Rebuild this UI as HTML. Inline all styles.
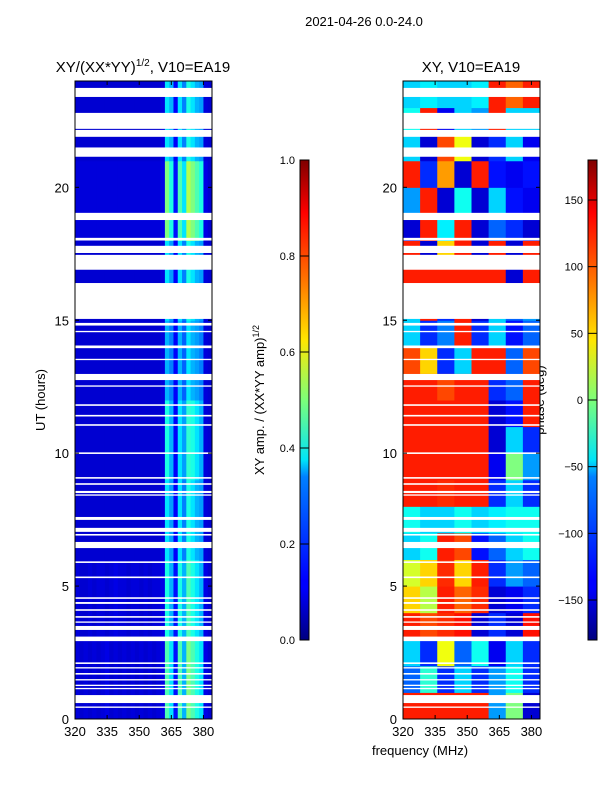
<!DOCTYPE html>
<html><head><meta charset="utf-8"><style>
body{margin:0;background:#fff;width:600px;height:800px;overflow:hidden}
svg text{font-family:"Liberation Sans",sans-serif;fill:#000}
</style></head><body>
<svg id="fig" width="600" height="800" xmlns="http://www.w3.org/2000/svg">
<defs>
<linearGradient id="jet" x1="0" y1="1" x2="0" y2="0">
<stop offset="0" stop-color="#00007f"/><stop offset="0.11" stop-color="#0000ff"/><stop offset="0.125" stop-color="#0000ff"/>
<stop offset="0.34" stop-color="#0080ff"/><stop offset="0.375" stop-color="#00e4f8"/><stop offset="0.5" stop-color="#7cff79"/>
<stop offset="0.625" stop-color="#ffe600"/><stop offset="0.75" stop-color="#ff7400"/><stop offset="0.89" stop-color="#ff0000"/><stop offset="1" stop-color="#7f0000"/>
</linearGradient>
</defs>
<text x="364" y="26" font-size="13" text-anchor="middle">2021-04-26 0.0-24.0</text>
<text x="143" y="72" font-size="15" text-anchor="middle">XY/(XX*YY)<tspan font-size="10" dy="-6">1/2</tspan><tspan dy="6">, V10=EA19</tspan></text>
<text x="471" y="72" font-size="15" text-anchor="middle">XY, V10=EA19</text>
<text transform="translate(45,400) rotate(-90)" font-size="13" text-anchor="middle">UT (hours)</text>
<text transform="translate(264,400) rotate(-90)" font-size="13" text-anchor="middle">XY amp. / (XX*YY amp)<tspan font-size="9" dy="-5">1/2</tspan></text>
<text transform="translate(544,400) rotate(-90)" font-size="13" text-anchor="middle" fill="#333">phase (deg)</text>
<text x="420" y="755" font-size="13" text-anchor="middle">frequency (MHz)</text>
<g id="left"></g><g id="right"></g><g id="cb"></g>
</svg>
<script>
const freqTicks=[320,335,350,365,380];
const hourTicks=[0,5,10,15,20];
const ampTicks=[0.0,0.2,0.4,0.6,0.8,1.0];
const phaseTicks=[-150,-100,-50,0,50,100,150];
// amplitude: 8 time rows (3h each, from 0h), 32 freq cols (2 MHz from 320)
const ampRows=[
[.09,.08,.09,.08,.09,.08,.09,.1,.08,.09,.08,.09,.08,.09,.08,.09,.08,.09,.08,.09,.1,.45,.35,.14,.45,.3,.5,.45,.4,.35,.1,.08],
[.09,.08,.08,.09,.08,.09,.09,.08,.09,.1,.09,.09,.08,.09,.09,.08,.09,.08,.09,.09,.1,.4,.3,.14,.4,.3,.45,.4,.35,.3,.1,.08],
[.08,.08,.08,.08,.08,.08,.08,.08,.08,.08,.08,.08,.08,.08,.08,.08,.08,.08,.08,.08,.09,.35,.28,.12,.35,.25,.4,.35,.3,.28,.09,.08],
[.08,.08,.08,.08,.08,.08,.08,.08,.08,.08,.08,.08,.08,.08,.08,.08,.08,.08,.08,.08,.09,.4,.3,.12,.35,.28,.42,.4,.35,.3,.09,.08],
[.08,.08,.08,.08,.08,.08,.08,.08,.08,.08,.08,.08,.08,.08,.08,.08,.08,.08,.08,.08,.09,.3,.25,.12,.3,.22,.35,.3,.28,.25,.09,.08],
[.08,.08,.08,.08,.08,.08,.08,.08,.08,.08,.08,.08,.08,.08,.08,.08,.08,.08,.08,.08,.09,.35,.28,.12,.35,.25,.4,.35,.3,.28,.09,.08],
[.09,.09,.09,.09,.09,.09,.09,.09,.09,.09,.09,.09,.09,.09,.09,.09,.09,.09,.09,.09,.1,.5,.4,.14,.45,.35,.55,.5,.45,.4,.1,.08],
[.08,.08,.08,.08,.08,.08,.08,.08,.08,.08,.08,.08,.08,.08,.08,.08,.08,.08,.08,.08,.09,.35,.3,.12,.35,.25,.4,.35,.3,.28,.09,.08]];
// phase (deg): 24 hourly rows from 0h, 8 freq cols (8 MHz from 320)
const phaseRows=[
[125,125,125,125,125,-80,0,-150],[-100,-30,-120,-60,-120,-80,-40,-120],[-60,-120,40,-100,-40,-140,-60,-120],
[125,110,120,130,-150,-120,-150,130],[60,20,125,100,120,-150,-140,-120],[30,60,120,60,125,-120,-80,-100],
[-60,-40,125,110,-130,-100,-60,-40],[-40,-60,-60,-40,-60,-50,-40,-40],[125,125,120,125,125,-120,-60,-120],
[125,125,125,125,125,-140,0,-80],[125,125,125,125,125,-150,-60,-120],[125,125,125,125,125,-150,-130,125],
[125,125,110,125,125,-120,-100,125],[110,60,-120,-60,125,125,-100,110],[-60,-120,-90,125,-120,-60,-130,-100],
[-60,125,-120,125,-150,-60,-100,-80],[125,125,125,125,125,125,-150,125],[125,-150,60,125,-150,125,-150,125],
[-150,125,-50,125,-150,-100,-120,-150],[-80,125,-150,-40,-150,-60,-130,-140],[125,-120,80,-150,125,-130,-140,-130],
[-60,-150,110,40,-150,-120,-60,-140],[-40,125,-140,-60,-80,125,-60,-60],[-60,-50,-60,-60,-50,125,100,125]];
// flagged (blank) time ranges in hours
const gaps=[[23.4,23.74],[22.2,22.8],[21.9,22.16],[21.15,21.5],[18.77,19.04],[18.0,18.1],[17.53,17.8],[16.9,17.46],[15.05,16.4],
[14.8,14.9],[14.55,14.6],[13.95,14.05],[13.5,13.55],[12.75,12.98],[12.5,12.55],[11.78,11.84],[11.38,11.44],[11.03,11.09],[9.97,10.03],
[9.04,9.1],[8.81,8.87],[8.5,8.58],[8.4,8.45],[7.49,7.6],[7.04,7.19],[6.9,6.96],[6.43,6.66],[5.87,5.93],[5.3,5.36],[4.52,4.58],[4.33,4.4],
[4.07,4.13],[3.81,3.87],[3.62,3.67],[3.35,3.5],[2.93,3.1],[2.07,2.13],[1.9,1.95],[1.67,1.73],[1.45,1.5],[1.24,1.29],[1.12,1.17],[0.6,0.9],[0.42,0.47]];
const NS='http://www.w3.org/2000/svg';
function mk(t,a,p){const e=document.createElementNS(NS,t);for(const k in a)e.setAttribute(k,a[k]);p.appendChild(e);return e;}
function jet(v){v=Math.max(0,Math.min(1,v));const c=x=>Math.round(255*Math.max(0,Math.min(1,1.5-Math.abs(4*v-x))));return `rgb(${c(3)},${c(2)},${c(1)})`;}
function panel(g,x0,kind){
  const W=137,H=638,y0=81;
  const X=f=>x0+(f-320)/64*W, Y=h=>y0+H-(h/24)*H;
  if(kind==='amp'){
    ampRows.forEach((row,i)=>row.forEach((v,j)=>{
      const r=mk('rect',{x:X(320+2*j),y:Y(3*i+3),width:X(322)-X(320)+0.5,height:Y(0)-Y(3)+0.5,fill:jet(v)},g);
      
      
    }));
  } else {
    phaseRows.forEach((row,i)=>row.forEach((v,j)=>{
      const r=mk('rect',{x:X(320+8*j),y:Y(i+1),width:X(328)-X(320)+0.5,height:Y(0)-Y(1)+0.5,fill:jet((v+180)/360)},g);
      
      
    }));
  }
  gaps.forEach(gp=>{
    const r=mk('rect',{x:x0,y:Y(gp[1]),width:W,height:Y(gp[0])-Y(gp[1]),fill:'#fff'},g);
    
    
  });
  const fr=mk('rect',{x:x0,y:y0,width:W,height:H,fill:'none',stroke:'#000','stroke-width':1},g);
  
  
  freqTicks.forEach(f=>{
    mk('line',{x1:X(f),x2:X(f),y1:y0+H,y2:y0+H-4,stroke:'#000'},g);
    mk('line',{x1:X(f),x2:X(f),y1:y0,y2:y0+4,stroke:'#000'},g);
    const t=mk('text',{x:X(f),y:y0+H+17,'font-size':13,'text-anchor':'middle'},g);t.textContent=f;
    
    
  });
  hourTicks.forEach(h=>{
    mk('line',{x1:x0,x2:x0+4,y1:Y(h),y2:Y(h),stroke:'#000'},g);
    mk('line',{x1:x0+W,x2:x0+W-4,y1:Y(h),y2:Y(h),stroke:'#000'},g);
    const t=mk('text',{x:x0-6,y:Y(h)+5,'font-size':13,'text-anchor':'end'},g);t.textContent=h;
    
    
  });
}
panel(document.getElementById('left'),75,'amp');
panel(document.getElementById('right'),403,'phase');
function cbar(x,ticks,lo,hi,fmt,name){
  const g=document.getElementById('cb');
  const Y=v=>640-(v-lo)/(hi-lo)*480;
  const r=mk('rect',{x:x,y:160,width:9,height:480,fill:'url(#jet)',stroke:'#000','stroke-width':1},g);
  
  
  ticks.forEach(v=>{
    mk('line',{x1:x,x2:x+9,y1:Y(v),y2:Y(v),stroke:'#000','stroke-width':1},g);
    const t=mk('text',{x:x-5,y:Y(v)+4,'font-size':11,'text-anchor':'end'},g);t.textContent=fmt(v);
    
    
  });
}
cbar(300,ampTicks,0,1,v=>v.toFixed(1),'amp-colorbar');
cbar(588,phaseTicks,-180,180,v=>v<0?'\u2212'+(-v):String(v),'phase-colorbar');
</script>
</body></html>
